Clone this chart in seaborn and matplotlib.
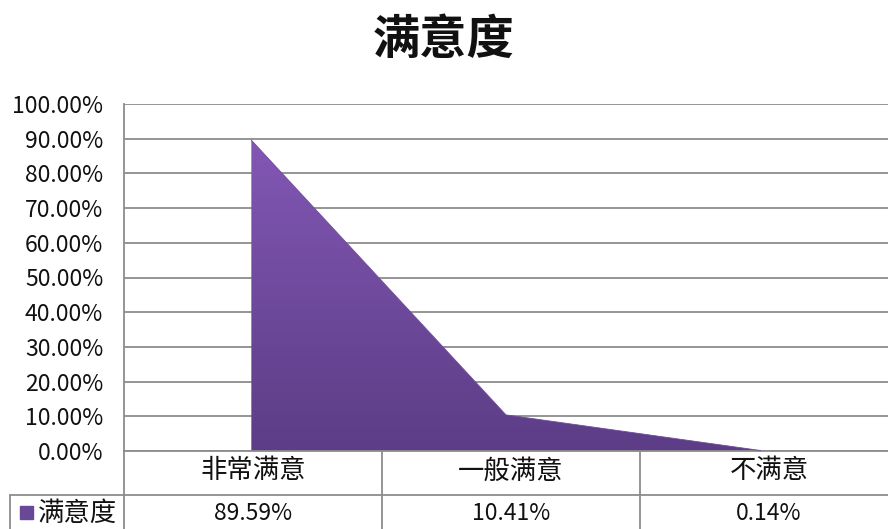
import numpy as np
import matplotlib
matplotlib.use("Agg")
import matplotlib.pyplot as plt
from matplotlib.colors import LinearSegmentedColormap
import seaborn as sns

# data
categories = ["非常满意", "一般满意", "不满意"]
values = [0.8959, 0.1041, 0.0014]
value_labels = ["89.59%", "10.41%", "0.14%"]
series_name = "满意度"

sns.set_style("white")
plt.rcParams["font.family"] = ["Noto Sans CJK SC", "DejaVu Sans"]

W, H = 888, 529
fig = plt.figure(figsize=(W / 100, H / 100), dpi=100)

def fx(px):
    return px / W

def fy(py):
    return 1 - py / H

ax = fig.add_axes([fx(124), fy(451), fx(888) - fx(124), fy(104) - fy(451)])

xs = np.arange(len(categories))
grid_col = "#8c8c8c"

# area outline via seaborn, gradient fill clipped to the area polygon
sns.lineplot(x=xs, y=values, ax=ax, color="#6f4b9c", linewidth=0.6, zorder=3)
poly = ax.fill_between(xs, 0, values, facecolor="none", edgecolor="none")
cmap = LinearSegmentedColormap.from_list("purp", ["#5c3d86", "#8257b4"])
grad = np.linspace(0, 1, 256).reshape(-1, 1)
im = ax.imshow(grad, cmap=cmap, origin="lower", aspect="auto",
               extent=[xs[0], xs[-1], 0, max(values)], zorder=2)
im.set_clip_path(poly.get_paths()[0], transform=ax.transData)

ax.set_xlim(-0.5, len(categories) - 0.5)
ax.set_ylim(0, 1)
ax.set_yticks(np.arange(0, 1.01, 0.1))
ax.set_yticklabels([f"{v:.2%}" for v in np.arange(0, 1.01, 0.1)], fontsize=16.5)
ax.tick_params(axis="y", length=0, pad=15, colors="#111111")
ax.set_xticks([])
ax.grid(axis="y", color=grid_col, linewidth=1.3, zorder=1)
ax.set_axisbelow(True)
for side in ["top", "right"]:
    ax.spines[side].set_visible(False)
for side in ["left", "bottom"]:
    ax.spines[side].set_color(grid_col)
    ax.spines[side].set_linewidth(1.3)

# data table under the plot
def hline(x0, x1, y):
    fig.add_artist(plt.Line2D([fx(x0), fx(x1)], [fy(y), fy(y)], color=grid_col, lw=1.3))

def vline(x, y0, y1):
    fig.add_artist(plt.Line2D([fx(x), fx(x)], [fy(y0), fy(y1)], color=grid_col, lw=1.3))

col_edges = [124, 382, 640]
hline(10, 888, 495)
vline(10, 495, 540)
for x in col_edges:
    vline(x, 451, 540)

for i, (cat, lab) in enumerate(zip(categories, value_labels)):
    cx = (col_edges[i] + (col_edges[i + 1] if i + 1 < len(col_edges) else 898)) / 2
    fig.text(fx(cx), fy(471), cat, ha="center", va="center", fontsize=19, color="#111111")
    fig.text(fx(cx), fy(514), lab, ha="center", va="center", fontsize=16.5, color="#111111")

fig.add_artist(plt.Rectangle((fx(20), fy(519)), fx(13), fy(506) - fy(519), color="#6a4898"))
fig.text(fx(38), fy(513), series_name, ha="left", va="center", fontsize=19, color="#111111")

fig.text(0.5, fy(40), "满意度", ha="center", va="center", fontsize=34, fontweight="bold", color="#111111")

fig.savefig("out.png", dpi=100)
